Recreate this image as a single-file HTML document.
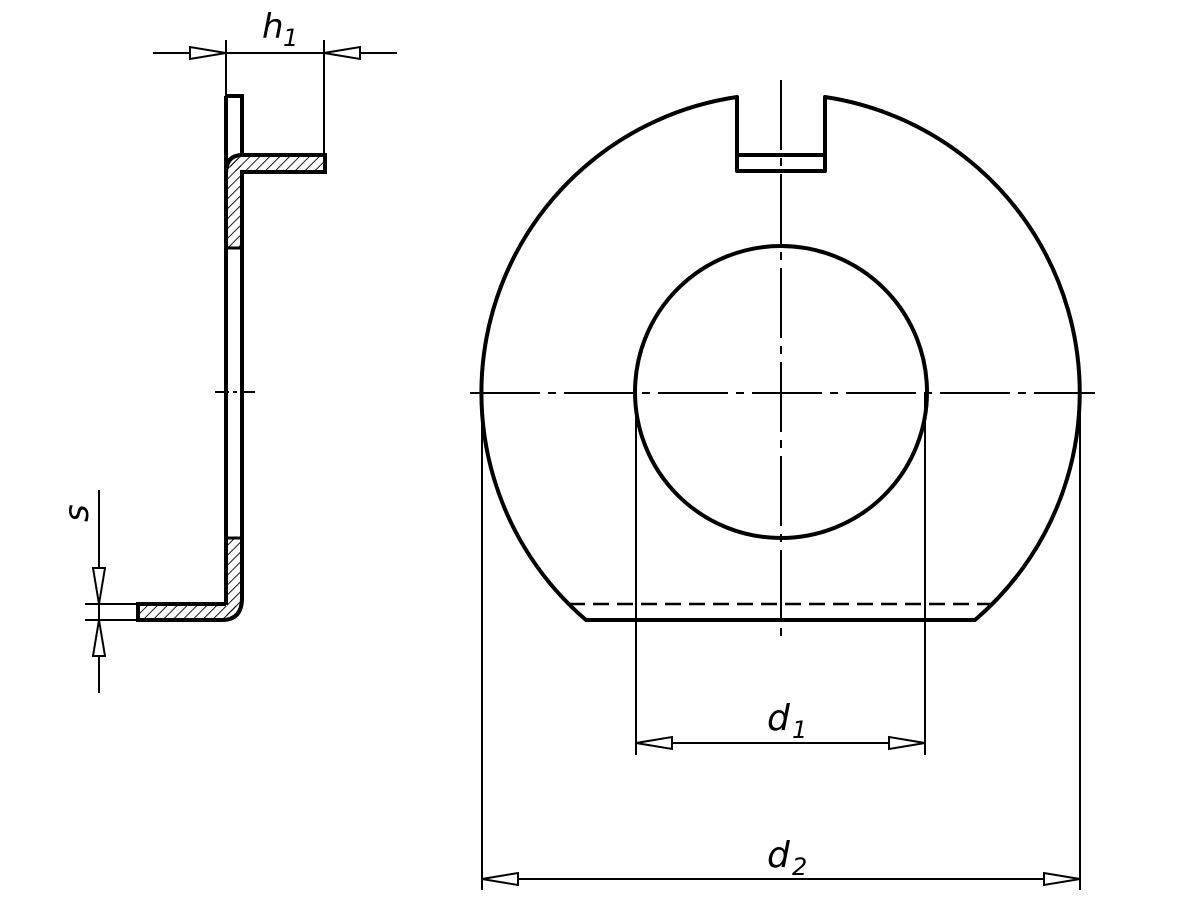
<!DOCTYPE html>
<html><head><meta charset="utf-8"><style>
html,body{margin:0;padding:0;background:#fff;}
svg{display:block;}
text{font-family:"DejaVu Sans","Liberation Sans",sans-serif;font-style:italic;fill:#000;}
</style></head><body>
<svg width="1200" height="900" viewBox="0 0 1200 900" xmlns="http://www.w3.org/2000/svg">
<defs>
<pattern id="h" patternUnits="userSpaceOnUse" width="7" height="7" patternTransform="rotate(45)">
<line x1="0" y1="0" x2="0" y2="7" stroke="#000" stroke-width="1.8"/>
</pattern>
</defs>
<g fill="none" stroke="#000">
<!-- left profile -->
<rect x="230" y="157" width="95" height="14" fill="url(#h)" stroke="none"/>
<rect x="227" y="158" width="14" height="90" fill="url(#h)" stroke="none"/>
<rect x="227" y="538" width="14" height="80" fill="url(#h)" stroke="none"/>
<rect x="138" y="606" width="100" height="12" fill="url(#h)" stroke="none"/>
<path d="M226,96 H242 V155" stroke-width="4"/>
<path d="M226,96 V174 Q226,155 242,155 H325 V172 H242 V248" stroke-width="4"/>
<line x1="226" y1="150" x2="226" y2="605" stroke-width="4"/>
<line x1="242" y1="248" x2="242" y2="600" stroke-width="4"/>
<line x1="227" y1="248" x2="241" y2="248" stroke-width="3"/>
<line x1="227" y1="538" x2="241" y2="538" stroke-width="3"/>
<path d="M242,598 Q242,620 222,620 H138 V604 H226" stroke-width="4"/>
<line x1="215" y1="392" x2="255" y2="392" stroke-width="2" stroke-dasharray="14,4,4,4"/>
<!-- h1 dim -->
<line x1="153" y1="53" x2="397" y2="53" stroke-width="2"/>
<line x1="226" y1="40" x2="226" y2="96" stroke-width="2"/>
<line x1="324" y1="40" x2="324" y2="154" stroke-width="2"/>
<path d="M226,53 L190,47 V59 Z" fill="#fff" stroke-width="2"/>
<path d="M324,53 L360,47 V59 Z" fill="#fff" stroke-width="2"/>
<!-- s dim -->
<line x1="99" y1="490" x2="99" y2="693" stroke-width="2"/>
<line x1="85" y1="604" x2="137" y2="604" stroke-width="2"/>
<line x1="85" y1="620" x2="137" y2="620" stroke-width="2"/>
<path d="M99,604 L93,568 H105 Z" fill="#fff" stroke-width="2"/>
<path d="M99,620 L93,656 H105 Z" fill="#fff" stroke-width="2"/>
<!-- main view -->
<path d="M737,97 A299,299 0 0 0 586,620 H975 A299,299 0 0 0 825,97 V171 H737 Z" stroke-width="4" stroke-linejoin="round"/>
<line x1="737" y1="155" x2="825" y2="155" stroke-width="4"/>
<circle cx="781" cy="392" r="146" stroke-width="4"/>
<line x1="569" y1="604" x2="993" y2="604" stroke-width="2.5" stroke-dasharray="16,8"/>
<line x1="470" y1="393" x2="1095" y2="393" stroke-width="2" stroke-dasharray="70,8,8,8"/>
<line x1="781" y1="80" x2="781" y2="640" stroke-width="2" stroke-dasharray="70,8,8,8"/>
<!-- d1 -->
<line x1="636" y1="393" x2="636" y2="755" stroke-width="2"/>
<line x1="925" y1="393" x2="925" y2="755" stroke-width="2"/>
<line x1="636" y1="743" x2="925" y2="743" stroke-width="2"/>
<path d="M636,743 L672,737 V749 Z" fill="#fff" stroke-width="2"/>
<path d="M925,743 L889,737 V749 Z" fill="#fff" stroke-width="2"/>
<!-- d2 -->
<line x1="482" y1="393" x2="482" y2="890" stroke-width="2"/>
<line x1="1080" y1="393" x2="1080" y2="890" stroke-width="2"/>
<line x1="482" y1="879" x2="1080" y2="879" stroke-width="2"/>
<path d="M482,879 L518,873 V885 Z" fill="#fff" stroke-width="2"/>
<path d="M1080,879 L1044,873 V885 Z" fill="#fff" stroke-width="2"/>
</g>
<text x="262" y="38" font-size="34">h</text><text x="283" y="46" font-size="24">1</text>
<text x="767" y="730" font-size="36">d</text><text x="792" y="738" font-size="24">1</text>
<text x="767" y="867" font-size="36">d</text><text x="792" y="875" font-size="24">2</text>
<text x="0" y="0" font-size="34" transform="translate(88,522) rotate(-90)">s</text>
</svg>
</body></html>
